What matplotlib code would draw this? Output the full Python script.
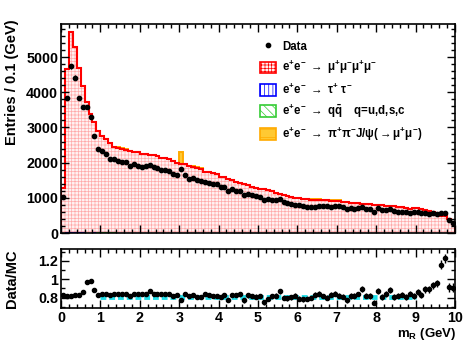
import numpy as np
import matplotlib
matplotlib.use('Agg')
import matplotlib.pyplot as plt
from matplotlib.patches import Patch
from matplotlib.lines import Line2D
from matplotlib.ticker import MultipleLocator

plt.rcParams['font.family'] = ['Liberation Sans', 'DejaVu Sans']
plt.rcParams['font.weight'] = 'bold'
plt.rcParams['mathtext.fontset'] = 'custom'
plt.rcParams['mathtext.rm'] = 'Liberation Sans'
plt.rcParams['mathtext.it'] = 'Liberation Sans:italic'
plt.rcParams['mathtext.bf'] = 'Liberation Sans:bold'
plt.rcParams['hatch.linewidth'] = 0.5

# m_R bins, 0.1 GeV wide
bin_lo, bin_hi, bin_w = 0.0, 10.0, 0.1

# e+e- -> mu+mu-mu+mu- (MC)
mc_mumu = [1270, 4630, 5690, 5260, 4660, 4160, 3700, 3380, 3130, 2880,
           2740, 2640, 2530, 2430, 2390, 2380, 2340, 2330, 2290, 2280,
           2240, 2250, 2210, 2210, 2200, 2140, 2130, 2100, 2050, 1980,
           1970, 1950, 1890, 1880, 1850, 1830, 1740, 1730, 1700, 1690,
           1600, 1580, 1530, 1500, 1440, 1420, 1400, 1350, 1320, 1290,
           1260, 1240, 1220, 1180, 1140, 1110, 1080, 1060, 1030, 1000,
           990, 980, 960, 950, 940, 935, 930, 925, 920, 915,
           910, 890, 870, 860, 845, 840, 835, 825, 820, 810,
           800, 790, 780, 770, 760, 745, 730, 715, 690, 700,
           700, 680, 640, 620, 600, 560, 490, 470, 400, 320]

# e+e- -> tau+tau-
mc_tau = [5, 20, 30, 25, 20, 15, 10, 8, 5, 0] + [0] * 90

# e+e- -> qqbar
mc_qq = [0] * 8 + [10, 15, 18, 18, 15, 15, 12, 12, 10, 10, 8, 8, 6] + [0] * 79

# e+e- -> pi+pi- J/psi(-> mu+mu-)
mc_jpsi = ([0] * 14 + [30, 30, 25, 0, 0, 25] + [0] * 10 + [340, 20, 25, 30, 25, 20]
           + [0] * 27 + [25, 30, 25, 0, 0, 25, 30, 20, 0] + [0] * 28)

data = [1030, 3830, 4740, 4410, 3830, 3590, 3590, 3300, 2760, 2400,
        2340, 2240, 2090, 2090, 2050, 2010, 2010, 1910, 1960, 1910,
        1880, 1910, 1930, 1870, 1840, 1790, 1780, 1750, 1680, 1640,
        1810, 1650, 1540, 1560, 1500, 1480, 1450, 1430, 1390, 1380,
        1300, 1300, 1190, 1250, 1190, 1180, 1080, 1110, 1080, 1050,
        1030, 930, 960, 930, 930, 960, 870, 850, 820, 810,
        810, 775, 750, 750, 750, 775, 780, 755, 740, 760,
        770, 730, 675, 705, 695, 700, 745, 675, 675, 605,
        700, 640, 650, 680, 615, 605, 595, 595, 560, 590,
        605, 565, 570, 550, 560, 535, 570, 578, 365, 290]

ratio = [0.83, 0.82, 0.82, 0.83, 0.83, 0.86, 0.975, 0.98, 0.885, 0.83,
         0.845, 0.84, 0.83, 0.845, 0.845, 0.84, 0.835, 0.82, 0.845, 0.835,
         0.84, 0.845, 0.87, 0.845, 0.84, 0.835, 0.835, 0.835, 0.82, 0.83,
         0.775, 0.84, 0.815, 0.83, 0.81, 0.81, 0.835, 0.825, 0.82, 0.815,
         0.81, 0.825, 0.775, 0.83, 0.83, 0.835, 0.77, 0.825, 0.815, 0.81,
         0.815, 0.75, 0.79, 0.815, 0.82, 0.87, 0.80, 0.795, 0.805, 0.82,
         0.79, 0.78, 0.79, 0.80, 0.83, 0.84, 0.815, 0.80, 0.83, 0.845,
         0.82, 0.81, 0.775, 0.82, 0.82, 0.835, 0.89, 0.815, 0.82, 0.745,
         0.875, 0.81, 0.835, 0.885, 0.81, 0.815, 0.83, 0.81, 0.84, 0.82,
         0.86, 0.83, 0.89, 0.89, 0.935, 0.955, 1.16, 1.23, 0.915, 0.91]

fit_range = [1.0, 9.0]
fit_value = 0.81

edges = np.arange(bin_lo, bin_hi + bin_w / 2, bin_w)
centers = edges[:-1] + bin_w / 2
data = np.array(data, float)
ratio = np.array(ratio)

s_qq = np.array(mc_qq, float)
s_tau = s_qq + np.array(mc_tau)
s_mumu = s_tau + np.array(mc_mumu)
s_all = s_mumu + np.array(mc_jpsi)

fig = plt.figure(figsize=(4.69, 3.41), dpi=100)
ax = fig.add_axes([0.130, 0.3167, 0.840, 0.613])
rax = fig.add_axes([0.130, 0.0959, 0.840, 0.174])

# stack, top component first
ax.stairs(s_all, edges, fill=True, facecolor='#ffc933', edgecolor='#ffaa00', lw=0)
ax.stairs(s_all, edges, color='#ffaa00', lw=1.4)
ax.stairs(s_mumu, edges, fill=True, facecolor='#fff2f2', edgecolor='#ffaaaa',
          hatch='+++++', lw=0)
ax.stairs(s_mumu, edges, color='#ff0000', lw=1.5)
ax.stairs(s_tau, edges, fill=True, facecolor='white', edgecolor='#0000ff',
          hatch='||||', lw=0.8)
ax.stairs(s_qq, edges, fill=True, facecolor='white', edgecolor='#33cc33',
          hatch='\\\\\\\\', lw=0.8)
ax.errorbar(centers, data, yerr=np.sqrt(data), fmt='o', ms=3.1, color='black',
            elinewidth=0.8, capsize=0)

ax.set_xlim(bin_lo, bin_hi)
ax.set_ylim(0, 5940)
ax.xaxis.set_major_locator(MultipleLocator(1))
ax.xaxis.set_minor_locator(MultipleLocator(0.2))
ax.yaxis.set_major_locator(MultipleLocator(1000))
ax.yaxis.set_minor_locator(MultipleLocator(200))
ax.tick_params(labelbottom=False)

handles = [
    Line2D([], [], marker='o', ls='none', color='black', ms=3.1),
    Patch(facecolor='#fff2f2', edgecolor='#ff0000', hatch='+++++', lw=1.2),
    Patch(facecolor='white', edgecolor='#0000ff', hatch='||||', lw=1.2),
    Patch(facecolor='white', edgecolor='#33cc33', hatch='\\\\\\\\', lw=1.2),
    Patch(facecolor='#ffc933', edgecolor='#ffaa00', hatch='--', lw=1.2),
]
labels = [
    'Data',
    r'$\mathbf{e^{+}e^{-}}$ $\rightarrow$ $\mathrm{\mu^{+}\mu^{-}\mu^{+}\mu^{-}}$',
    r'$\mathbf{e^{+}e^{-}}$ $\rightarrow$ $\mathrm{\tau^{+}\ \tau^{-}}$',
    r'$\mathbf{e^{+}e^{-}}$ $\rightarrow$ $\mathbf{q\bar{q}}$    q=u,d,s,c',
    r'$\mathbf{e^{+}e^{-}}$ $\rightarrow$ $\mathrm{\pi^{+}\pi^{-}J/\psi(\rightarrow\mu^{+}\mu^{-})}$',
]
ax.legend(handles, labels, loc='upper left', bbox_to_anchor=(0.505, 0.922),
          frameon=False, fontsize=8.3, borderpad=0, borderaxespad=0,
          handlelength=1.4, handleheight=1.2, handletextpad=0.5,
          labelspacing=0.5)

rax.errorbar(centers, ratio, yerr=ratio / np.sqrt(data), fmt='none',
             ecolor='black', elinewidth=1.0, capsize=0, zorder=2)
rax.plot(fit_range, [fit_value, fit_value], color='#22dde8', lw=3.5,
         ls=(0, (1.2, 0.6)), zorder=2.5)
rax.plot(centers, ratio, 'o', ms=3.0, color='black', zorder=3)
rax.set_xlim(bin_lo, bin_hi)
rax.set_ylim(0.684, 1.331)
rax.xaxis.set_major_locator(MultipleLocator(1))
rax.xaxis.set_minor_locator(MultipleLocator(0.2))
rax.set_yticks([0.8, 1.0, 1.2])
rax.set_yticklabels(['0.8', '1', '1.2'])
rax.yaxis.set_minor_locator(MultipleLocator(0.1))

for a in (ax, rax):
    a.tick_params(which='both', direction='in', top=True, right=True,
                  labelsize=10.3, width=1.0, pad=2)
    a.tick_params(which='major', length=6)
    a.tick_params(which='minor', length=3)
    for sp in a.spines.values():
        sp.set_linewidth(1.2)

fig.text(12 / 469, 1 - 82.5 / 341, 'Entries / 0.1 (GeV)', rotation=90,
         ha='center', va='center', fontsize=10.5)
fig.text(12 / 469, 1 - 279 / 341, 'Data/MC', rotation=90,
         ha='center', va='center', fontsize=10.5)
fig.text(456 / 469, 1 - 333.5 / 341, r'$\mathbf{m_{R}}$ (GeV)',
         ha='right', va='center', fontsize=9.5)

fig.savefig('out.png', dpi=100)
